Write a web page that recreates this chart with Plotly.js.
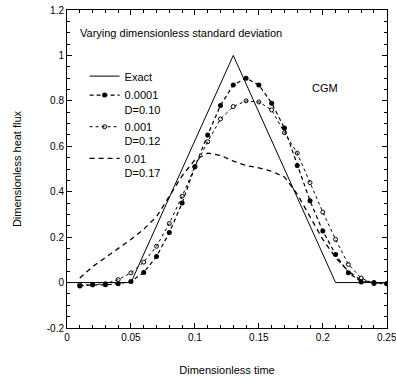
<!DOCTYPE html>
<html>
<head>
<meta charset="utf-8">
<script src="https://cdn.plot.ly/plotly-3.0.1.min.js"></script>
<style>html,body{margin:0;padding:0;background:#fff;}#chart{width:396px;height:383px;}</style>
</head>
<body>
<div id="chart"></div>
<script>
// Exact solution (triangular heat flux)
const exactT = [0, 0.05, 0.13, 0.21, 0.25];
const exactQ = [0, 0, 1.0, 0, 0];

// Sample times for estimated series
const times = [0.01,0.02,0.03,0.04,0.05,0.06,0.07,0.08,0.09,0.10,0.11,0.12,0.13,
               0.14,0.15,0.16,0.17,0.18,0.19,0.20,0.21,0.22,0.23,0.24,0.25];

// sigma = 0.0001, D = 0.10
const q0001 = [-0.015,-0.01,-0.01,-0.005,0.005,0.044,0.115,0.22,0.35,0.51,0.65,0.78,0.87,
               0.90,0.87,0.79,0.68,0.515,0.36,0.227,0.124,0.043,0.003,0.0,-0.005];
// sigma = 0.001, D = 0.12
const q001 = [-0.01,-0.01,-0.005,0.013,0.043,0.09,0.16,0.26,0.38,0.51,0.62,0.72,0.775,
              0.80,0.795,0.76,0.66,0.57,0.44,0.31,0.19,0.08,0.02,-0.005,-0.005];
// sigma = 0.01, D = 0.17
const q01 = [0.02,0.07,0.11,0.15,0.19,0.235,0.29,0.38,0.47,0.54,0.57,0.56,0.535,
             0.515,0.505,0.49,0.465,0.39,0.29,0.19,0.11,0.05,0.01,0.0,0.0];

// Tick labels
const xTickVals = [0, 0.05, 0.1, 0.15, 0.2, 0.25];
const xTickText = ['0', '0.05', '0.1', '0.15', '0.2', '0.25'];
const yTickVals = [-0.2, 0, 0.2, 0.4, 0.6, 0.8, 1, 1.2];
const yTickText = ['-0.2', '0', '0.2', '0.4', '0.6', '0.8', '1', '1.2'];

const names = ['Exact', '0.0001<br>D=0.10', '0.001<br>D=0.12', '0.01<br>D=0.17'];

const traces = [
  {x: exactT, y: exactQ, name: names[0], mode: 'lines',
   line: {color: '#000', width: 1}},
  {x: times, y: q0001, name: names[1], mode: 'lines+markers',
   line: {color: '#000', width: 1.2, dash: '4px,3px'},
   marker: {symbol: 'circle', size: 5, color: '#000'}},
  {x: times, y: q001, name: names[2], mode: 'lines+markers',
   line: {color: '#000', width: 1, dash: 'dot'},
   marker: {symbol: 'circle-open', size: 4, color: '#000', line: {width: 1}}},
  {x: times, y: q01, name: names[3], mode: 'lines',
   line: {color: '#000', width: 1.3, dash: '5px,4px'}}
];

const fontFam = 'Liberation Sans, Arial, sans-serif';

const axisCommon = {
  showline: true, linecolor: '#000', linewidth: 1, mirror: 'allticks',
  ticks: 'inside', ticklen: 5, tickcolor: '#000', tickwidth: 1,
  showgrid: false, zeroline: false, tickmode: 'array',
  ticklabeloverflow: 'allow',
  tickfont: {family: fontFam, size: 10, color: '#000'}
};

const layout = {
  width: 396, height: 383,
  margin: {l: 67, r: 9, t: 10, b: 55},
  paper_bgcolor: '#fff', plot_bgcolor: '#fff',
  showlegend: true,
  legend: {x: 0.055, y: 0.835, xanchor: 'left', yanchor: 'top',
           bgcolor: 'rgba(0,0,0,0)', borderwidth: 0, valign: 'top',
           font: {family: fontFam, size: 11, color: '#000'},
           tracegroupgap: 0, itemwidth: 30},
  xaxis: Object.assign({}, axisCommon, {
    range: [0, 0.2502], tickvals: xTickVals, ticktext: xTickText,
    minor: {ticks: 'inside', ticklen: 3, tickcolor: '#000', tickmode: 'linear', tick0: 0, dtick: 0.01},
    title: {text: 'Dimensionless time', standoff: 24,
            font: {family: fontFam, size: 11, color: '#000'}}
  }),
  yaxis: Object.assign({}, axisCommon, {
    range: [-0.2, 1.2], tickvals: yTickVals, ticktext: yTickText,
    minor: {ticks: 'inside', ticklen: 3, tickcolor: '#000', tickmode: 'linear', tick0: 0, dtick: 0.05},
    title: {text: 'Dimensionless heat flux', standoff: 22,
            font: {family: fontFam, size: 11, color: '#000'}}
  }),
  annotations: [
    {text: 'Varying dimensionless standard deviation', xref: 'paper', yref: 'paper',
     x: 0.034, y: 0.928, xanchor: 'left', yanchor: 'middle', showarrow: false,
     font: {family: fontFam, size: 11, color: '#000'}},
    {text: 'CGM', xref: 'paper', yref: 'paper',
     x: 0.76, y: 0.755, xanchor: 'left', yanchor: 'middle', showarrow: false,
     font: {family: fontFam, size: 11, color: '#000'}}
  ]
};

Plotly.newPlot('chart', traces, layout, {displayModeBar: false, staticPlot: true});
</script>
</body>
</html>
